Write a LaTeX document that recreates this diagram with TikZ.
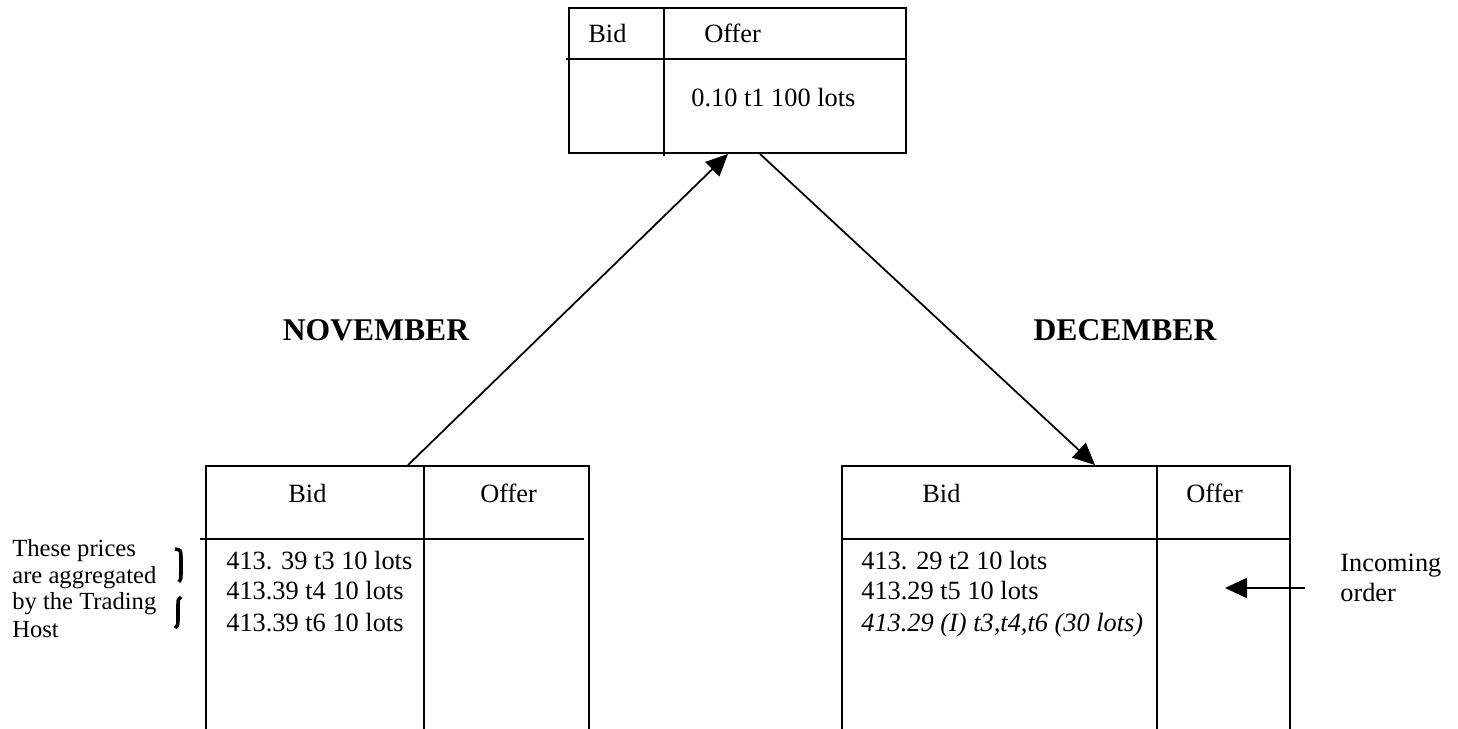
\documentclass[tikz,border=0pt]{standalone}
\usepackage{fontspec}
\setmainfont{Liberation Serif}
\usetikzlibrary{arrows.meta}

\tikzset{
  book/.style={draw,line width=1.1pt,rectangle,inner sep=0pt},
  txt/.style={anchor=base west,inner sep=0pt,font=\fontsize{15}{18}\selectfont},
  note/.style={anchor=base west,inner sep=0pt,font=\fontsize{14}{17}\selectfont},
  month/.style={inner sep=0pt,font=\fontsize{18}{21}\selectfont\bfseries},
  link/.style={line width=1pt,-{Triangle[length=0.44cm,width=0.4cm]}}
}

\begin{document}
\begin{tikzpicture}[x=0.02cm,y=-0.02cm]
\useasboundingbox (0,0) rectangle (1458,729);
\clip (0,0) rectangle (1458,729);
% the three order books
\draw (737.5,80.5) node[book,minimum width=6.74cm,minimum height=2.9cm](spread) {};
\draw (397.5,613) node[book,minimum width=7.66cm,minimum height=5.88cm](nov) {};
\draw (1066,613) node[book,minimum width=8.96cm,minimum height=5.88cm](dec) {};
\draw[line width=1.1pt] (664,8) -- (664,156);
\draw[line width=1.1pt] (566,59) -- (906,59);
\draw[line width=1.1pt] (424,466) -- (424,740);
\draw[line width=1.1pt] (200,539) -- (584,539);
\draw[line width=1.1pt] (1157,466) -- (1157,740);
\draw[line width=1.1pt] (842,539) -- (1290,539);
% spread book
\draw (588,43) node[txt](sbid) {Bid};
\draw (704,43) node[txt](soffer) {Offer};
\draw (691,107) node[txt](sone) {0.10 t1 100 lots};
% november book
\draw (288,503) node[txt](nbid) {Bid};
\draw (480,503) node[txt](noffer) {Offer};
\draw (226,569) node[txt](none) {413. 39 t3 10 lots};
\draw (226,600) node[txt](ntwo) {413.39 t4 10 lots};
\draw (226,631) node[txt](nthree) {413.39 t6 10 lots};
% december book
\draw (922,503) node[txt](dbid) {Bid};
\draw (1186,503) node[txt](doffer) {Offer};
\draw (861,569) node[txt](done) {413. 29 t2 10 lots};
\draw (861,600) node[txt](dtwo) {413.29 t5 10 lots};
\draw (861,631) node[txt](dthree) {\itshape 413.29 (I) t3,t4,t6 (30 lots)};
% labels
\draw (376,330) node[month](novlabel) {NOVEMBER};
\draw (1125,330) node[month](declabel) {DECEMBER};
\draw (12,557) node[note](agg1) {These prices};
\draw (12,583) node[note](agg2) {are aggregated};
\draw (12,609) node[note](agg3) {by the Trading};
\draw (12,637) node[note](agg4) {Host};
\draw (1340,572) node[txt](inc1) {Incoming};
\draw (1340,602) node[txt](inc2) {order};
\draw[line width=2pt] (175,549) .. controls (181,550) .. (181,558) -- (181,574) .. controls (181,579) .. (179,582);
\draw[line width=2pt] (181,597) .. controls (178,599) .. (178,606) -- (178,620) .. controls (178,625) .. (175,628);
% arrows
\coordinate (incfrom) at (1305,588);
\coordinate (incto) at (1225,588);
\draw[link] ([xshift=0.21cm]nov.north) -- ([xshift=-0.19cm]spread.south);
\draw[link] ([xshift=0.45cm]spread.south) -- ([xshift=0.58cm]dec.north);
\draw[link] (incfrom) -- (incto);
\end{tikzpicture}
\end{document}
